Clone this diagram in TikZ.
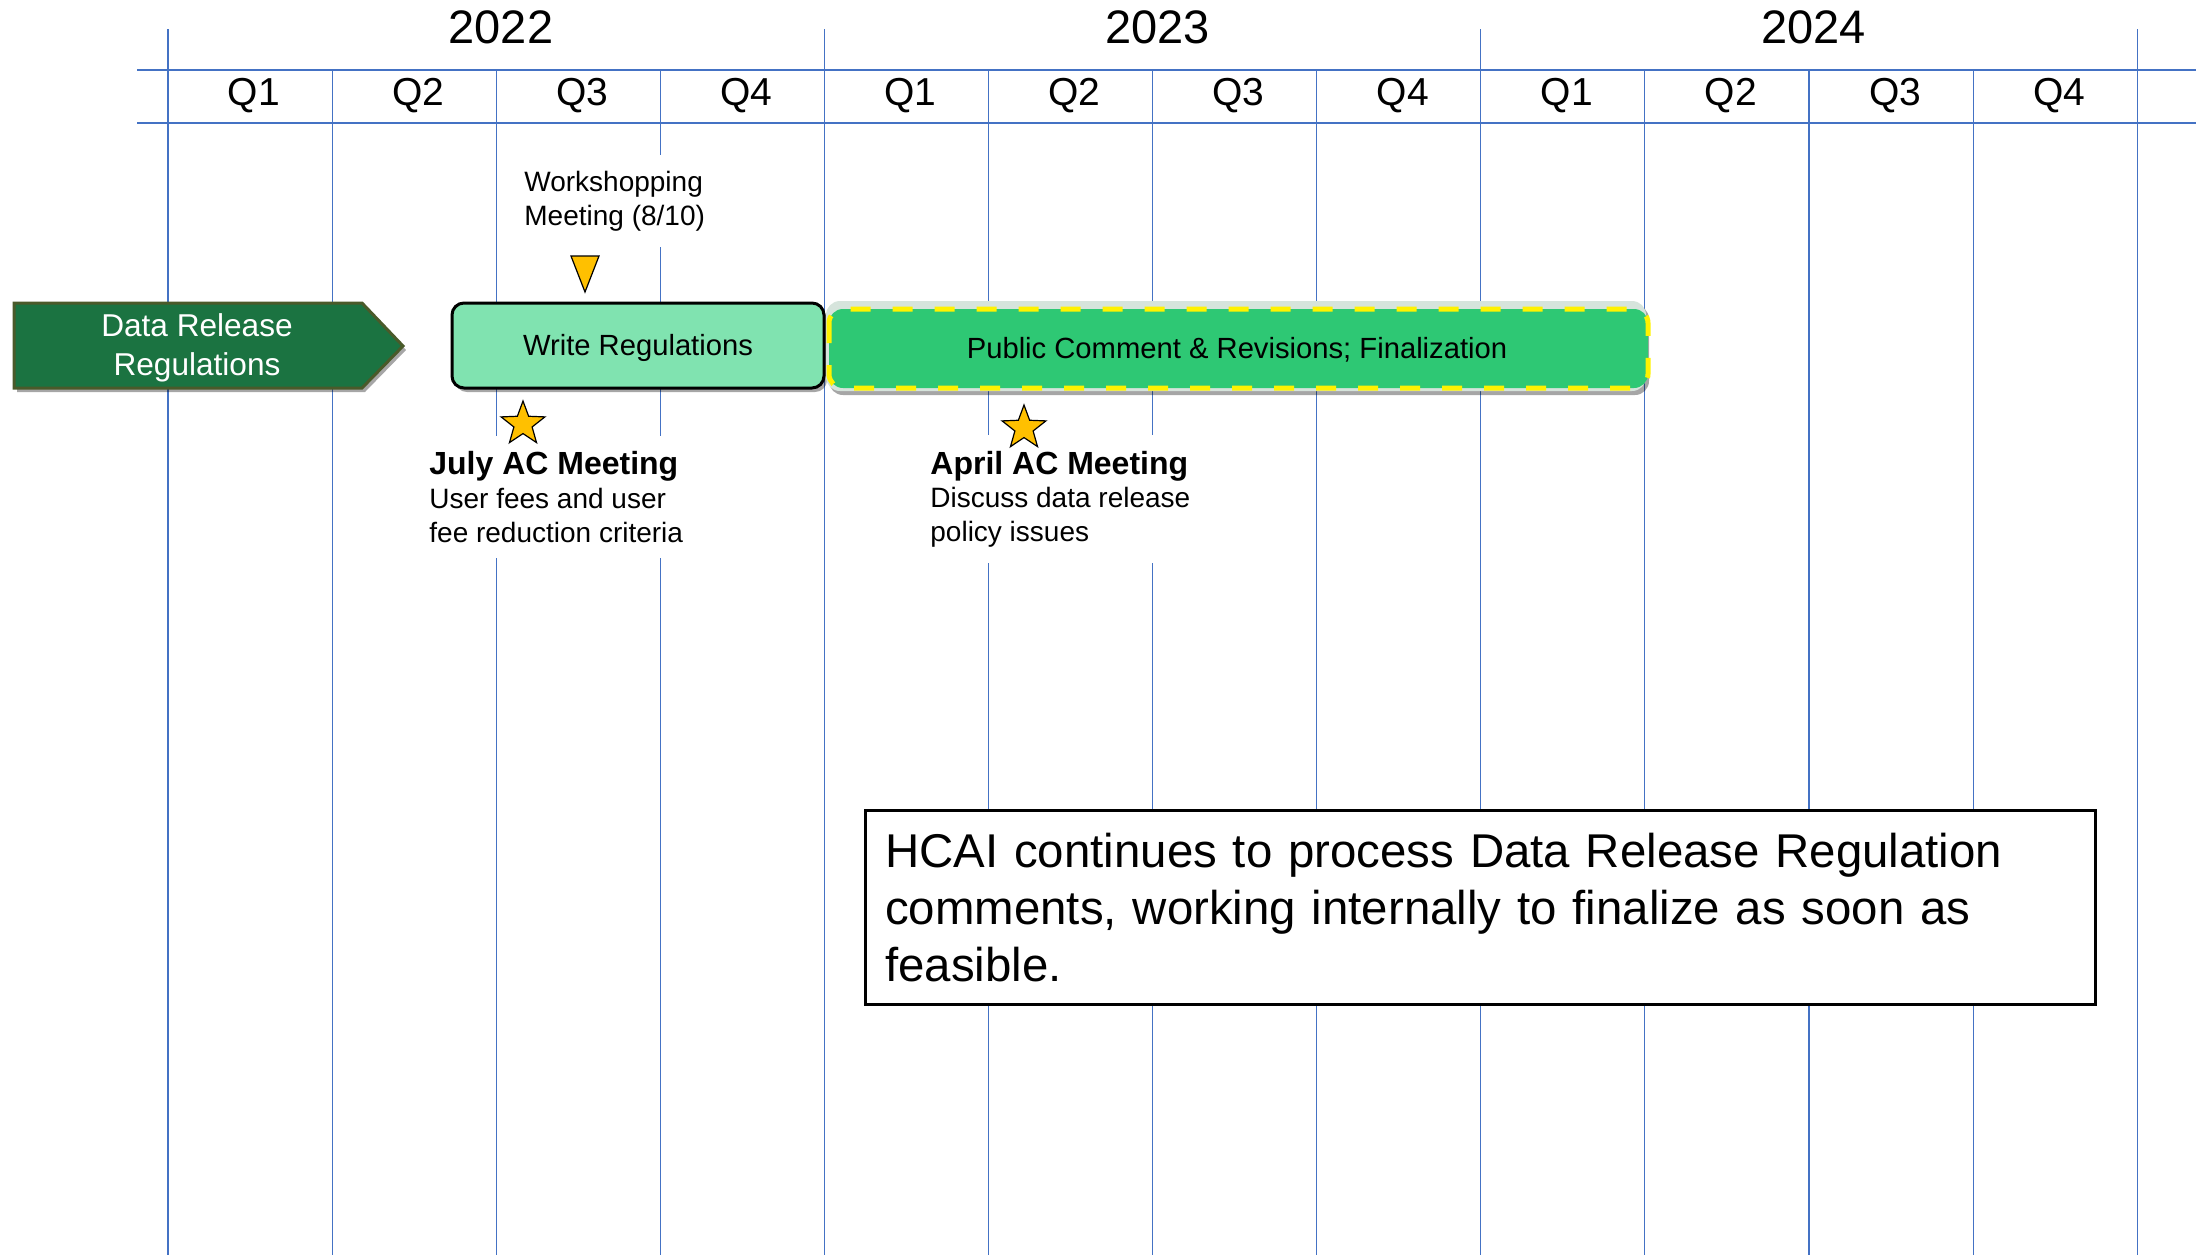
\documentclass[tikz,border=0pt]{standalone}
\usepackage{fontspec}
\setmainfont{Liberation Sans}
\usetikzlibrary{shapes.geometric,shadows}

\definecolor{gridblue}{HTML}{4472C4}
\definecolor{drrgreen}{HTML}{1B7341}
\definecolor{drredge}{HTML}{4A5A2A}
\definecolor{writegreen}{HTML}{80E3B0}
\definecolor{pubgreen}{HTML}{2EC874}
\definecolor{pubglow}{HTML}{D6E4DC}
\definecolor{mileorange}{HTML}{FFC000}

\begin{document}
\begin{tikzpicture}[x=0.5pt,y=-0.5pt,
	gridline/.style={color=gridblue, line width=0.55pt},
	yrlabel/.style={font=\fontsize{23.5}{28}\selectfont},
	qlabel/.style={font=\fontsize{19.5}{23}\selectfont},
	boxshadow/.style={drop shadow={shadow xshift=1.5pt, shadow yshift=-2pt, opacity=0.35, fill=black}},
	notebox/.style={fill=white, align=left, inner xsep=7pt, inner ysep=8pt, font=\fontsize{14}{16.8}\selectfont},
	milestar/.style={star, star points=5, star point ratio=2.4, draw=black, line width=0.6pt, fill=mileorange, minimum size=23pt, inner sep=0pt}]
	\useasboundingbox (0,0) rectangle (2196,1255);
	
	% grid
	\draw[gridline, line width=0.7pt] (137,70) -- (2196,70);
	\draw[gridline, line width=0.7pt] (137,123) -- (2196,123);
	\foreach \i in {0,...,12}{
		\pgfmathtruncatemacro\yq{mod(\i,4)}
		\ifnum\yq=0
			\draw[gridline] (168+164.1*\i,29) -- (168+164.1*\i,1255);
		\else
			\draw[gridline] (168+164.1*\i,70) -- (168+164.1*\i,1255);
		\fi
	}
	\foreach \yr [count=\i from 0] in {2022,2023,2024}
		\node[yrlabel] (y\yr) at (501+656.4*\i,27) {\yr};
	\foreach \q [count=\i from 0] in {Q1,Q2,Q3,Q4,Q1,Q2,Q3,Q4,Q1,Q2,Q3,Q4}
		\node[qlabel] (q\i) at (254+164.1*\i,96) {\q};
	
	% bars
	\draw[boxshadow, fill=drrgreen, draw=drredge, line width=1.5pt] (14,303) -- (362,303) -- (403,346) -- (362,388) -- (14,388) -- cycle;
	\node[white, align=center, font=\fontsize{15.8}{19.6}\selectfont] (drr) at (197,348) {Data Release\\Regulations};
	
	\draw[boxshadow, fill=writegreen, draw=black, line width=1.5pt, rounded corners=6pt] (452,303) rectangle (824,388);
	\node[font=\fontsize{14.6}{17}\selectfont] (write) at (638,348) {Write Regulations};
	
	\draw[boxshadow, fill=pubglow, draw=none, rounded corners=7pt] (826,301) rectangle (1646,391);
	\draw[fill=pubgreen, draw=yellow, line width=2.5pt, dash pattern=on 10pt off 11pt, rounded corners=7pt] (829,309) rectangle (1648,388);
	\node[font=\fontsize{14.6}{17}\selectfont] (public) at (1237,350) {Public Comment \& Revisions; Finalization};
	
	% milestones
	\draw[fill=mileorange, draw=black, line width=0.6pt] (571,256) -- (599,256) -- (585,292) -- cycle;
	\node[notebox, anchor=west] (workshop) at (510,201) {Workshopping\\Meeting (8/10)};
	
	\node[notebox, anchor=west] (july) at (415,497) {{\bfseries\fontsize{16}{18}\selectfont July AC Meeting}\\User fees and user\\fee reduction criteria};
	\node[notebox, anchor=west] (april) at (916,499) {{\bfseries\fontsize{16}{18}\selectfont April AC Meeting}\\Discuss data release\\policy issues};
	\node[milestar] (julystar) at (523,424) {};
	\node[milestar] (aprilstar) at (1024,428) {};
	
	% note
	\node[draw=black, line width=1.25pt, fill=white, anchor=north west, inner xsep=10pt, inner ysep=0pt,
		text width=595pt, minimum height=97pt, align=left, font=\fontsize{23.7}{28.5}\selectfont,
		drop shadow={shadow xshift=0.5pt, shadow yshift=-1pt, opacity=0.3, fill=black}] (hcai) at (864,809)
		{HCAI continues to process Data Release Regulation\\comments, working internally to finalize as soon as\\feasible.};
\end{tikzpicture}
\end{document}
